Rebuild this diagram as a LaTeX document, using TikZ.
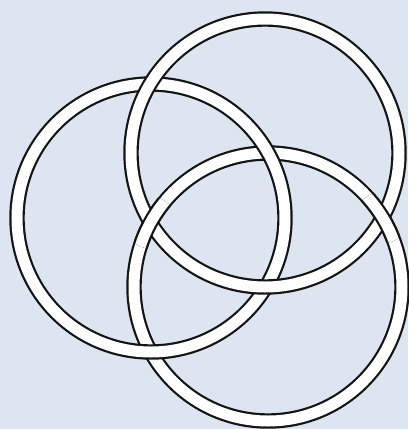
\documentclass[tikz,border=0pt]{standalone}
\usetikzlibrary{intersections}
\definecolor{bg}{RGB}{221,230,240}
\definecolor{ink}{RGB}{20,20,20}
\begin{document}
\begin{tikzpicture}[x=1pt,y=-1pt,
  ringout/.style={line width=15.4pt,draw=ink},
  ringin/.style={line width=11pt,draw=white}]
\fill[bg] (0,0) rectangle (408,429);
\useasboundingbox (0,0) rectangle (408,429);
% centres
\coordinate (ca) at (265,153);
\coordinate (cb) at (151,218);
\coordinate (cc) at (268,287);
\path[name path=pa] (ca) circle[radius=134pt];
\path[name path=pc] (cc) circle[radius=134pt];
\path[name intersections={of=pa and pc, name=x}];
% ring C (bottom)
\draw[ringout] (cc) circle[radius=134pt];
\draw[ringin] (cc) circle[radius=134pt];
% ring B (left), over C
\draw[ringout] (cb) circle[radius=134pt];
\draw[ringin] (cb) circle[radius=134pt];
% ring A (top), over B
\draw[ringout] (ca) circle[radius=134pt];
\draw[ringin] (ca) circle[radius=134pt];
% C over A at their two crossings
\begin{scope}
  \clip (x-1) circle[radius=26pt] (x-2) circle[radius=26pt];
  \draw[ringout] (cc) circle[radius=134pt];
  \draw[ringin] (cc) circle[radius=134pt];
\end{scope}
\end{tikzpicture}
\end{document}
